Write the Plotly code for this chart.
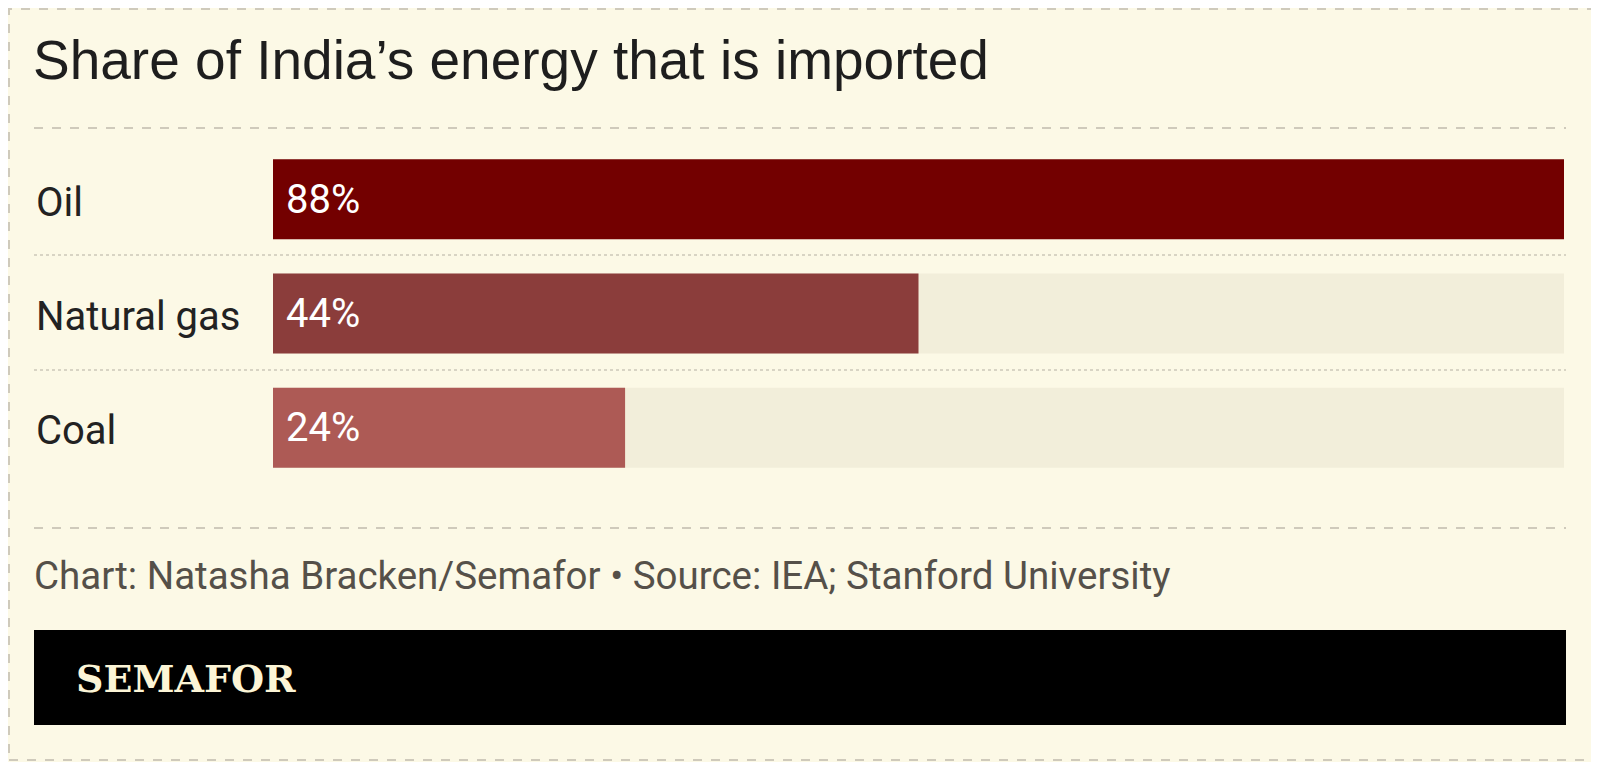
import plotly.graph_objects as go

categories = ["Oil", "Natural gas", "Coal"]
shares = [88, 44, 24]
bar_colors = ["#730000", "#8b3d3b", "#ad5a55"]
track = [max(shares)] * len(shares)

bg = "#fcf9e6"
fnt = "Liberation Sans Narrow, Roboto, sans-serif"
W, H = 1599, 762
OFF = 8  # page body margin
L, R, T, B = 273 - OFF, W - (1564 - OFF), 142 - OFF, H - (485 - OFF)

fig = go.Figure()
fig.add_trace(go.Bar(y=categories, x=track, orientation="h", marker=dict(color="#f2eeda", line_width=0),
                     hoverinfo="skip"))
fig.add_trace(go.Bar(y=categories, x=shares, orientation="h", marker=dict(color=bar_colors, line_width=0),
                     text=[f"{v}%" for v in shares], textposition="inside", insidetextanchor="start",
                     textfont=dict(family=fnt, size=40, color="white"), texttemplate=" %{text}"))

px = lambda x: (x - OFF - L) / (W - L - R)
py = lambda y: 1 - (y - OFF - T) / (H - T - B)

shapes = [
    dict(type="rect", xref="paper", yref="paper", x0=px(OFF + 1), x1=px(W - 2), y0=py(H - 2), y1=py(OFF + 1),
         line=dict(color="#cfcabb", width=2, dash="dash")),
    dict(type="line", xref="paper", yref="paper", x0=px(34), x1=px(1566), y0=py(128), y1=py(128),
         line=dict(color="#cfcabb", width=2, dash="dash")),
    dict(type="line", xref="paper", yref="paper", x0=px(34), x1=px(1566), y0=py(528), y1=py(528),
         line=dict(color="#cfcabb", width=2, dash="dash")),
    dict(type="line", xref="paper", yref="paper", x0=px(34), x1=px(1566), y0=py(255), y1=py(255),
         line=dict(color="#d8d4c4", width=2, dash="dot")),
    dict(type="line", xref="paper", yref="paper", x0=px(34), x1=px(1566), y0=py(370), y1=py(370),
         line=dict(color="#d8d4c4", width=2, dash="dot")),
    dict(type="rect", xref="paper", yref="paper", x0=px(34), x1=px(1566), y0=py(725), y1=py(630),
         fillcolor="black", line_width=0),
]

annotations = [dict(xref="paper", yref="y", x=px(34), y=c, text=c, showarrow=False, xanchor="left",
                    yshift=-3, font=dict(family=fnt, size=40, color="#222")) for c in categories]
annotations += [
    dict(xref="paper", yref="paper", x=px(31), y=py(60), text="Share of India’s energy that is imported",
         showarrow=False, xanchor="left", yanchor="middle",
         font=dict(family="Liberation Sans, Arial", size=55, color="#1e1e1e")),
    dict(xref="paper", yref="paper", x=px(32), y=py(575),
         text="Chart: Natasha Bracken/Semafor • Source: IEA; Stanford University",
         showarrow=False, xanchor="left", yanchor="middle", font=dict(family=fnt, size=38.5, color="#555049")),
    dict(xref="paper", yref="paper", x=px(74), y=py(678), text="<b>SEMAFOR</b>", showarrow=False,
         xanchor="left", yanchor="middle", font=dict(family="DejaVu Serif, serif", size=38, color="#fcf5d6")),
]

fig.update_layout(
    width=W, height=H, barmode="overlay", bargap=0.3, showlegend=False,
    paper_bgcolor=bg, plot_bgcolor=bg, margin=dict(l=L, r=R, t=T, b=B),
    xaxis=dict(range=[0, max(shares)], visible=False, fixedrange=True),
    yaxis=dict(autorange="reversed", visible=False, fixedrange=True),
    shapes=shapes, annotations=annotations,
)

fig.write_html("out.html", config={"displayModeBar": False})
